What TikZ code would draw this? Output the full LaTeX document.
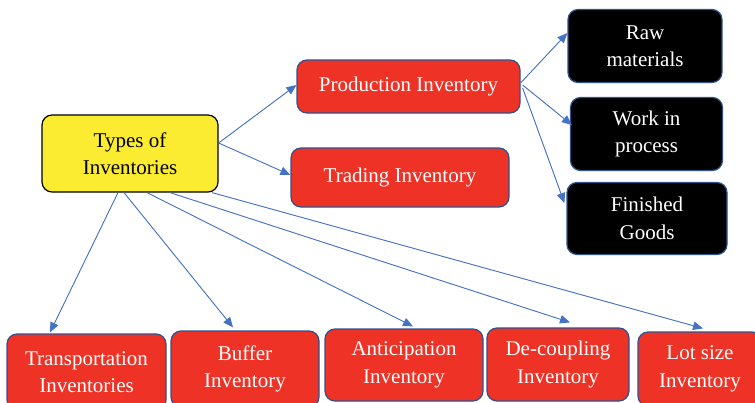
\documentclass[tikz,border=0pt]{standalone}
\usepackage{fontspec}
\setmainfont{Liberation Serif}
\usetikzlibrary{arrows.meta}
\definecolor{invred}{RGB}{238,50,38}
\definecolor{invyellow}{RGB}{252,236,49}
\definecolor{boxblue}{RGB}{47,82,143}
\definecolor{linkblue}{RGB}{68,114,196}
\tikzset{
  box/.style={rounded corners=10pt, line width=1.2pt, align=center, inner sep=0pt,
    font=\fontsize{21}{27.5}\selectfont},
  yellowbox/.style={box, fill=invyellow, draw=black, text=black},
  redbox/.style={box, fill=invred, draw=boxblue, text=white},
  blackbox/.style={box, fill=black, draw=boxblue, text=white},
  link/.style={draw=linkblue, line width=0.9pt, -{Triangle[length=10pt,width=8.5pt]}, fill=linkblue}
}
\begin{document}
\begin{tikzpicture}[x=1pt,y=-1pt]
\useasboundingbox (0,0) rectangle (755,402);
\clip (0,0) rectangle (755,402);

% root
\node[yellowbox, minimum width=176pt, minimum height=77pt] (types) at (130,153.5) {Types of\\Inventories};

% upper branch
\node[redbox, minimum width=223pt, minimum height=53pt] (prod) at (408.5,86.5) {Production Inventory};
\node[redbox, minimum width=218pt, minimum height=59pt] (trade) at (400,177.5) {Trading Inventory};

\node[blackbox, minimum width=154pt, minimum height=73pt] (raw) at (645,46) {Raw\\materials};
\node[blackbox, minimum width=152pt, minimum height=73pt] (work) at (646.5,134) {Work in\\process};
\node[blackbox, minimum width=160pt, minimum height=72pt] (fin) at (647,218.5) {Finished\\Goods};

% bottom row
\node[redbox, minimum width=159pt, minimum height=76pt] (trans) at (86.5,372) {Transportation\\Inventories};
\node[redbox, minimum width=148pt, minimum height=76pt] (buf) at (245,369) {Buffer\\Inventory};
\node[redbox, minimum width=158pt, minimum height=72pt] (anti) at (404,365) {Anticipation\\Inventory};
\node[redbox, minimum width=142pt, minimum height=73pt] (dec) at (558,364.5) {De-coupling\\Inventory};
\node[redbox, minimum width=124pt, minimum height=74pt] (lot) at (700,369) {Lot size\\Inventory};

% connectors
\draw[link] ([yshift=10.5pt]types.east) -- ([yshift=1.5pt]prod.west);
\draw[link] ([yshift=10.5pt]types.east) -- ([yshift=2.5pt]trade.west);

\draw[link] ([yshift=3.5pt]prod.east) -- ([yshift=13pt]raw.west);
\draw[link] ([xshift=2pt,yshift=1.5pt]prod.east) -- ([xshift=2pt,yshift=9pt]work.west);
\draw[link] ([xshift=2pt,yshift=-1.5pt]prod.east) -- ([xshift=-2pt,yshift=15.5pt]fin.west);

\draw[link] ([xshift=-12pt]types.south) -- ([xshift=-36.5pt,yshift=1pt]trans.north);
\draw[link] ([xshift=-6pt]types.south) -- ([xshift=-12pt,yshift=3pt]buf.north);
\draw[link] ([xshift=17pt]types.south) -- ([xshift=9pt,yshift=2pt]anti.north);
\draw[link] ([xshift=40pt]types.south) -- ([xshift=12pt,yshift=5pt]dec.north);
\draw[link] ([xshift=82pt]types.south) -- ([xshift=3pt,yshift=3pt]lot.north);
\end{tikzpicture}
\end{document}
